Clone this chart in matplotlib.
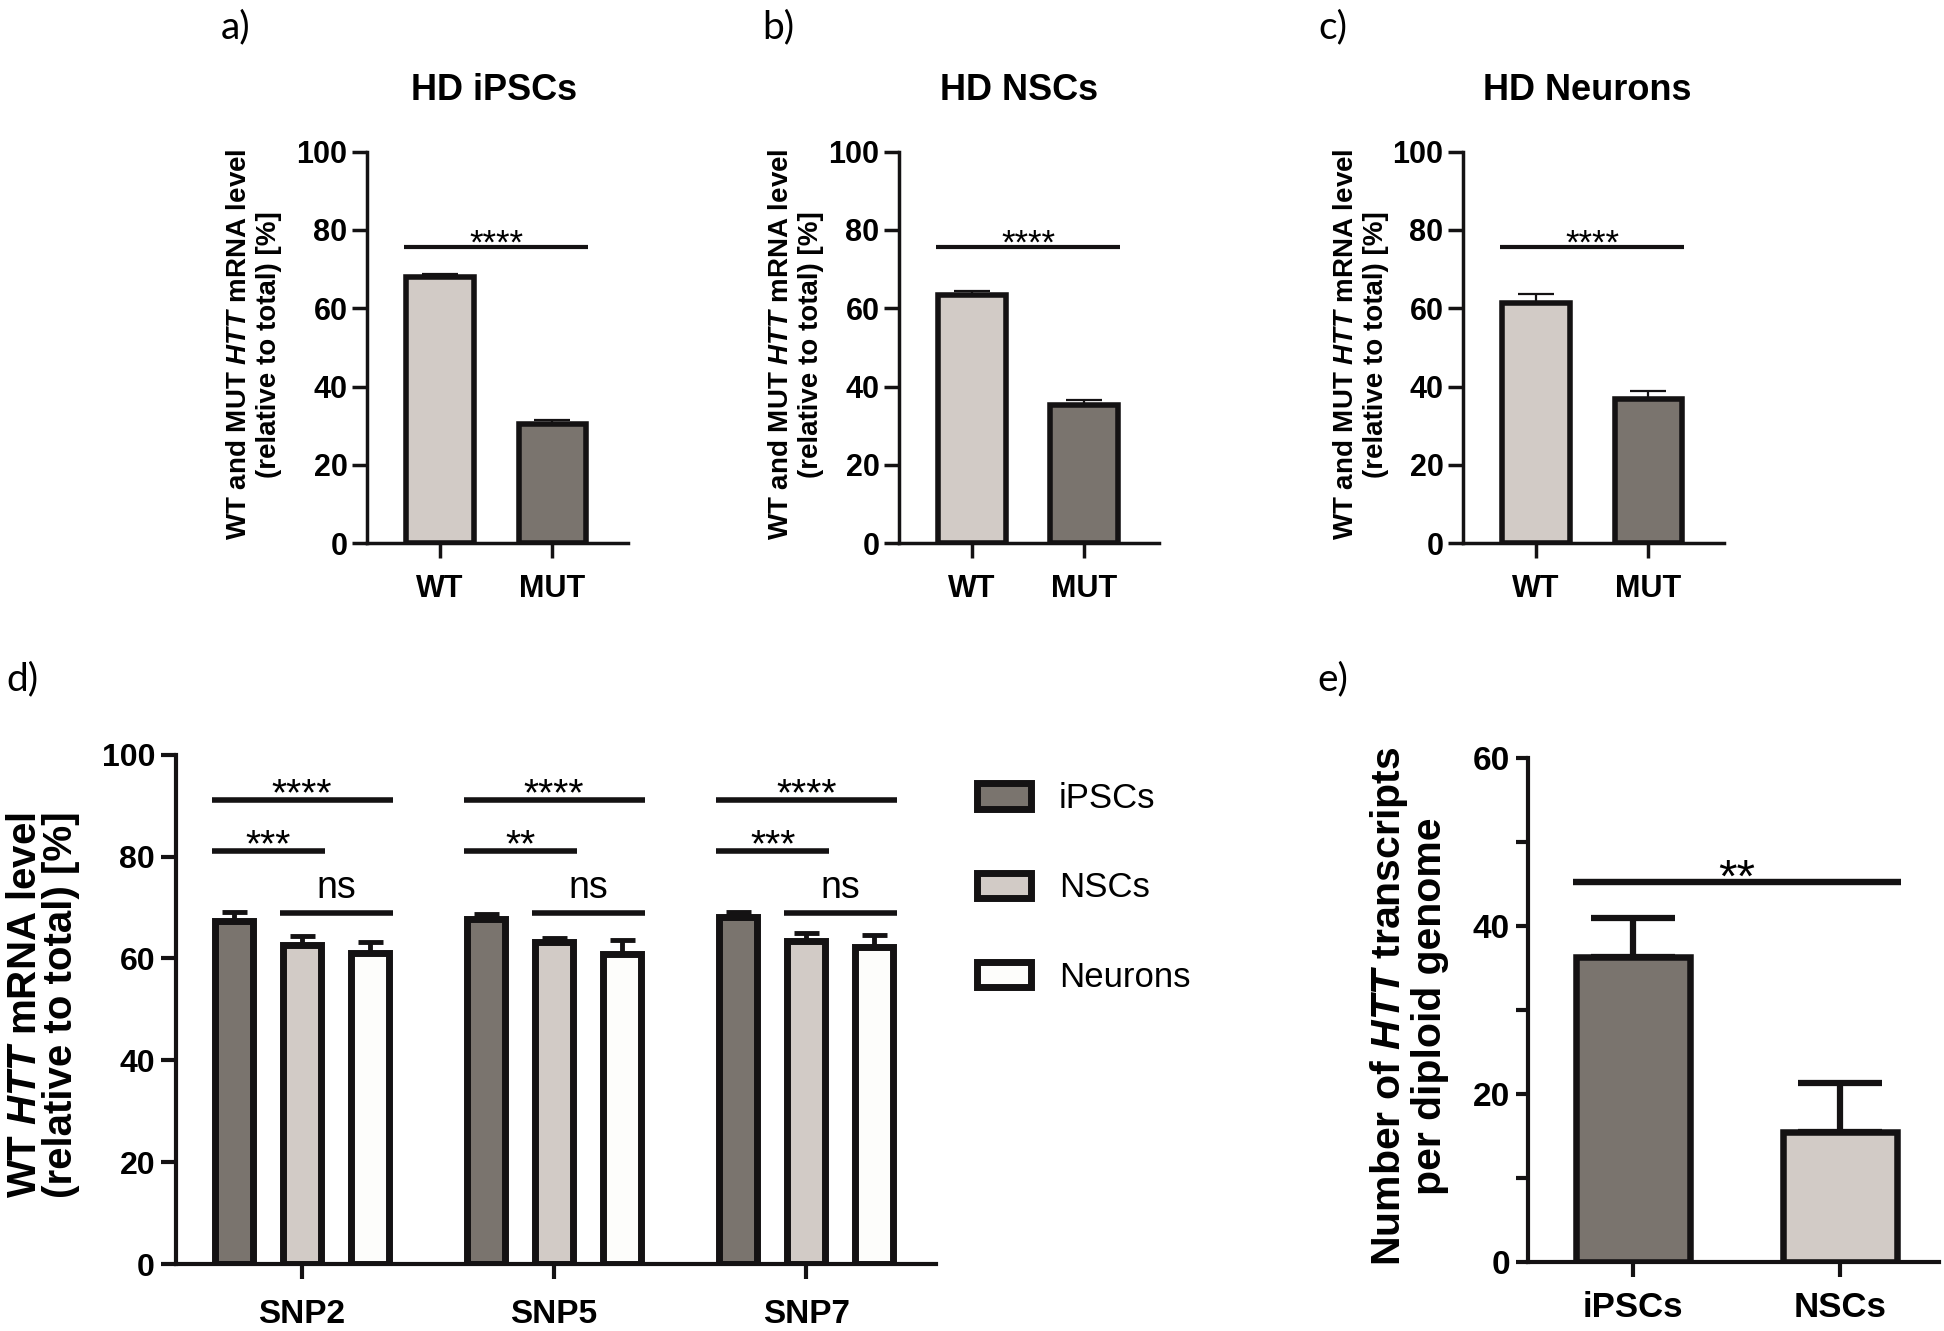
import numpy as np
import matplotlib.pyplot as plt

plt.rcParams['font.family'] = 'Liberation Sans'
plt.rcParams['font.weight'] = 'bold'
plt.rcParams['mathtext.fontset'] = 'custom'
plt.rcParams['mathtext.rm'] = 'Liberation Sans:bold'
plt.rcParams['mathtext.it'] = 'Liberation Sans:italic:bold'

dark = '#7a746e'
light = '#d2cbc6'
white = '#fdfdfb'
edge = '#141213'

#%% data, panels a-c (WT vs MUT)
wt_mut = ['WT', 'MUT']
top_titles = ['HD iPSCs', 'HD NSCs', 'HD Neurons']
top_mean = [[67.9, 30.4], [63.3, 35.3], [61.4, 36.8]]
top_err = [[0.9, 1.1], [1.2, 1.3], [2.3, 2.1]]
top_sig = ['****', '****', '****']

#%% data, panel d (WT HTT per SNP)
snps = ['SNP2', 'SNP5', 'SNP7']
cell_types = ['iPSCs', 'NSCs', 'Neurons']
wt_ipsc = [67.3, 67.7, 68.2]
wt_nsc = [62.7, 63.2, 63.4]
wt_neur = [61.0, 60.8, 62.3]
err_ipsc = [1.8, 1.0, 0.9]
err_nsc = [1.7, 0.9, 1.6]
err_neur = [2.3, 2.8, 2.3]
sig_all = ['****', '****', '****']
sig_ipsc_nsc = ['***', '**', '***']
sig_nsc_neur = ['ns', 'ns', 'ns']

#%% data, panel e (transcripts per diploid genome)
e_groups = ['iPSCs', 'NSCs']
e_mean = [36.3, 15.4]
e_err = [4.7, 5.9]
e_sig = '**'

fig = plt.figure(figsize=(19.44, 13.31), dpi=100)


def style_axes(ax, lw=2.5):
    for s in ['top', 'right']:
        ax.spines[s].set_visible(False)
    for s in ['left', 'bottom']:
        ax.spines[s].set_linewidth(lw)
        ax.spines[s].set_color(edge)


def star(ax, txt, x, y, fs, frac=0.575):
    # y is where the middle of the glyphs should sit
    ax.annotate(txt, xy=(x, y), xytext=(0, -frac * fs), textcoords='offset points',
                ha='center', va='baseline', fontsize=fs, fontweight='normal',
                annotation_clip=False)


def bracket(ax, x0, x1, y, lw):
    ax.plot([x0, x1], [y, y], color=edge, lw=lw, solid_capstyle='butt', clip_on=False)


#%% a-c
xs_top = [0.1888, 0.4624, 0.7526]
title_x = [0.2542, 0.524, 0.8167]
ylab_x = [0.1307, 0.4094, 0.7003]
for i in range(3):
    ax = fig.add_axes([xs_top[i], 0.592, 0.134, 0.294])
    x = np.arange(len(wt_mut))
    ax.errorbar(x, top_mean[i], yerr=[[0, 0], top_err[i]], fmt='none', ecolor=edge,
                elinewidth=1.6, capsize=13, capthick=1.6, zorder=1)
    ax.bar(x, top_mean[i], width=0.6, color=[light, dark], edgecolor=edge, linewidth=4, zorder=2)
    ax.set_xlim(-0.65, 1.67)
    ax.set_ylim(0, 100)
    ax.set_yticks(range(0, 101, 20))
    ax.set_xticks(x)
    ax.set_xticklabels(wt_mut)
    ax.tick_params(axis='y', length=11, width=2.5, labelsize=22, pad=3, color=edge)
    ax.tick_params(axis='x', length=11, width=2.5, labelsize=22, pad=11, color=edge)
    style_axes(ax)
    bracket(ax, -0.32, 1.32, 75.6, 3)
    star(ax, top_sig[i], 0.5, 79, 25)
    fig.text(title_x[i], 0.932, top_titles[i], ha='center', va='center', fontsize=26)
    fig.text(ylab_x[i], 0.741, 'WT and MUT $\\mathit{HTT}$ mRNA level\n(relative to total) [%]',
             rotation=90, ha='center', va='center', fontsize=20, multialignment='center')

#%% d
axd = fig.add_axes([0.0905, 0.0503, 0.391, 0.3827])
xd = np.arange(len(snps))
offs = [-0.27, 0, 0.27]
means = [wt_ipsc, wt_nsc, wt_neur]
errs = [err_ipsc, err_nsc, err_neur]
cols = [dark, light, white]
handles = []
for k in range(3):
    axd.errorbar(xd + offs[k], means[k], yerr=[[0] * 3, errs[k]], fmt='none', ecolor=edge,
                 elinewidth=3.5, capsize=9, capthick=3.5, zorder=1)
    b = axd.bar(xd + offs[k], means[k], width=0.15, color=cols[k], edgecolor=edge,
                linewidth=5, zorder=2, label=cell_types[k])
    handles.append(b)
axd.set_xlim(-0.5, 2.515)
axd.set_ylim(0, 100)
axd.set_yticks(range(0, 101, 20))
axd.set_xticks(xd)
axd.set_xticklabels(snps)
axd.tick_params(axis='y', length=11, width=3, labelsize=23, pad=4, color=edge)
axd.tick_params(axis='x', length=11, width=3, labelsize=24, pad=14, color=edge)
style_axes(axd, 3)
for g in range(3):
    bracket(axd, g - 0.358, g + 0.362, 91.1, 4)
    bracket(axd, g - 0.358, g + 0.092, 81.1, 4)
    bracket(axd, g - 0.088, g + 0.362, 69.0, 4)
    star(axd, sig_all[g], g, 94.5, 28)
    star(axd, sig_ipsc_nsc[g], g - 0.133, 84.4, 28)
    star(axd, sig_nsc_neur[g], g + 0.137, 73.7, 27, frac=0.26)
fig.text(0.022, 0.245, 'WT $\\mathit{HTT}$ mRNA level\n(relative to total) [%]',
         rotation=90, ha='center', va='center', fontsize=29, multialignment='center',
         linespacing=0.95)
fig.legend(handles=handles, labels=cell_types, loc='upper left', bbox_to_anchor=(0.5026, 0.4124),
           frameon=False, prop={'weight': 'normal', 'size': 25},
           handlelength=1.55, handleheight=0.75, handletextpad=0.8, labelspacing=1.62,
           borderpad=0, borderaxespad=0)

#%% e
axe = fig.add_axes([0.786, 0.0521, 0.2115, 0.3781])
xe = np.arange(len(e_groups))
axe.errorbar(xe, e_mean, yerr=[[0, 0], e_err], fmt='none', ecolor=edge,
             elinewidth=4.5, capsize=30, capthick=4.5, zorder=1)
axe.bar(xe, e_mean, width=0.55, color=[dark, light], edgecolor=edge, linewidth=4.7, zorder=2)
axe.set_xlim(-0.507, 1.478)
axe.set_ylim(0, 60)
axe.set_yticks([0, 20, 40, 60])
axe.set_yticks([10, 30, 50], minor=True)
axe.set_xticks(xe)
axe.set_xticklabels(e_groups)
axe.tick_params(axis='y', which='both', length=9, width=3, labelsize=24, pad=4, color=edge)
axe.tick_params(axis='x', length=11, width=3, labelsize=25, pad=10, color=edge)
style_axes(axe, 3)
bracket(axe, -0.29, 1.293, 45.3, 4.6)
star(axe, e_sig, 0.5, 47.3, 34)
fig.text(0.7245, 0.244, 'Number of $\\mathit{HTT}$ transcripts\nper diploid genome',
         rotation=90, ha='center', va='center', fontsize=29.5, multialignment='center',
         linespacing=1.05)

#%% panel letters
letters = ['a)', 'b)', 'c)', 'd)', 'e)']
lx = [0.121, 0.4005, 0.6856, 0.0115, 0.6856]
ly = [0.9795, 0.9795, 0.9795, 0.4898, 0.4898]
for t, x0, y0 in zip(letters, lx, ly):
    fig.text(x0, y0, t, ha='center', va='center', fontsize=28, fontweight='normal', family='Lato')

fig.savefig('out.png', dpi=100, facecolor='white')
